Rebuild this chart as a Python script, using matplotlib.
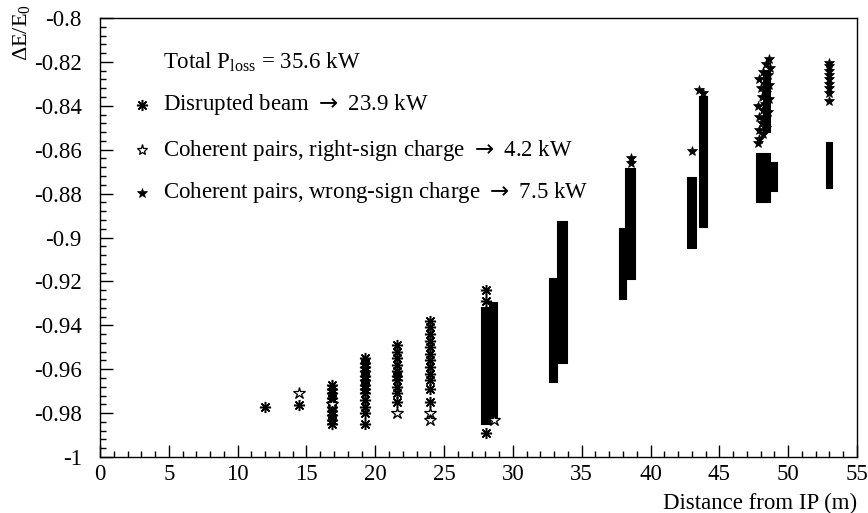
import matplotlib
matplotlib.use("Agg")
import matplotlib.pyplot as plt
from matplotlib.ticker import MultipleLocator, FixedLocator

plt.rcParams['font.family'] = ['Liberation Serif', 'DejaVu Serif']
plt.rcParams['axes.unicode_minus'] = False
plt.rcParams['mathtext.fontset'] = 'custom'
plt.rcParams['mathtext.rm'] = 'Liberation Serif'
plt.rcParams['mathtext.sf'] = 'DejaVu Sans'

# ---- data ----
# sparse disrupted-beam points (asterisks)
dis_x = [12.0, 14.45,
         16.84, 16.84, 16.84, 16.84, 16.84, 16.84, 16.84, 16.84, 16.84, 16.84,
         19.23, 19.23, 19.23, 19.23, 19.23, 19.23, 19.23, 19.23, 19.23, 19.23, 19.23, 19.23, 19.23,
         21.56, 21.56, 21.56, 21.56, 21.56, 21.56, 21.56, 21.56, 21.56, 21.56,
         23.98, 23.98, 23.98, 23.98, 23.98, 23.98, 23.98, 23.98, 23.98, 23.98, 23.98, 23.98,
         28.05, 28.05, 28.05]
dis_y = [-0.977, -0.9765,
         -0.967, -0.969, -0.971, -0.973, -0.975, -0.977, -0.979, -0.981, -0.983, -0.985,
         -0.955, -0.957, -0.959, -0.961, -0.963, -0.965, -0.967, -0.969, -0.971, -0.974, -0.977, -0.980, -0.985,
         -0.949, -0.952, -0.955, -0.958, -0.961, -0.963, -0.965, -0.968, -0.971, -0.975,
         -0.938, -0.941, -0.944, -0.947, -0.950, -0.953, -0.956, -0.959, -0.962, -0.965, -0.969, -0.975,
         -0.924, -0.929, -0.989]

# dense columns: centre, bottom, top, width
col_x = [28.05, 28.6, 32.95, 33.6, 38.0, 38.55, 43.0, 43.85, 48.2, 48.95, 53.0, 48.45]
col_lo = [-0.985, -0.983, -0.966, -0.957, -0.928, -0.919, -0.905, -0.895, -0.884, -0.879, -0.8775, -0.852]
col_hi = [-0.932, -0.930, -0.919, -0.893, -0.896, -0.869, -0.873, -0.836, -0.862, -0.866, -0.857, -0.824]
col_w = [0.6, 0.55, 0.55, 0.65, 0.5, 0.6, 0.6, 0.55, 1.0, 0.5, 0.4, 0.45]

# coherent pairs, right-sign charge (open stars)
rs_x = [14.45, 16.84, 21.56, 23.98, 23.98, 28.6]
rs_y = [-0.9707, -0.976, -0.980, -0.980, -0.983, -0.983]

# coherent pairs, wrong-sign charge (filled stars)
ws_x = [38.6, 38.6, 43.5, 43.8, 43.0,
        48.6, 48.4, 48.7, 48.2, 48.5, 47.9, 48.3, 48.6, 48.0, 48.4, 48.1, 48.6,
        48.3, 47.8, 48.2, 48.5, 47.9, 48.3, 48.1, 48.4, 47.9, 48.2, 47.9, 47.8,
        53.0, 53.0, 53.0, 53.0, 53.0, 53.0, 53.0, 53.0, 53.0]
ws_y = [-0.8638, -0.866, -0.833, -0.834, -0.8605,
        -0.8185, -0.821, -0.823, -0.8245, -0.826, -0.828, -0.830, -0.8305, -0.832, -0.834, -0.836, -0.837,
        -0.839, -0.840, -0.842, -0.843, -0.845, -0.846, -0.848, -0.850, -0.851, -0.853, -0.855, -0.857,
        -0.8205, -0.822, -0.824, -0.826, -0.828, -0.830, -0.832, -0.834, -0.838]

ARROW = r"$\mathsf{\rightarrow}$"
legend_lines = ["Disrupted beam " + ARROW + " 23.9 kW",
                "Coherent pairs, right-sign charge " + ARROW + " 4.2 kW",
                "Coherent pairs, wrong-sign charge " + ARROW + " 7.5 kW"]
total_text = r"Total P$_{\mathrm{loss}}$ = 35.6 kW"

x_ticks = [0, 5, 10, 15, 20, 25, 30, 35, 40, 45, 50, 55]
y_ticks = [-1.0, -0.98, -0.96, -0.94, -0.92, -0.9, -0.88, -0.86, -0.84, -0.82, -0.8]
y_tick_labels = ["-1", "-0.98", "-0.96", "-0.94", "-0.92", "-0.9", "-0.88", "-0.86", "-0.84", "-0.82", "-0.8"]

# ---- figure ----
W, H = 868, 513
fig = plt.figure(figsize=(W / 100, H / 100), dpi=100)
ax = fig.add_axes([100 / W, 1 - 457 / H, 757 / W, 439 / H])

ASTER = (8, 2, 0)
ax.bar(col_x, [h - l for h, l in zip(col_hi, col_lo)], bottom=col_lo, width=col_w,
       color='black', edgecolor='black', linewidth=1.5, zorder=2)
ax.plot(dis_x, dis_y, linestyle='none', marker=ASTER, markersize=8, mew=1.1,
        color='black', zorder=3)
ax.plot(rs_x, rs_y, linestyle='none', marker='*', markersize=9, mew=0.9,
        markerfacecolor='white', markeredgecolor='black', zorder=4)
ax.plot(ws_x, ws_y, linestyle='none', marker='*', markersize=7.5, mew=0.5,
        color='black', zorder=4)

ax.set_xlim(0, 55)
ax.set_ylim(-1.0, -0.8)
ax.xaxis.set_major_locator(FixedLocator(x_ticks))
ax.xaxis.set_minor_locator(MultipleLocator(1))
ax.yaxis.set_major_locator(FixedLocator(y_ticks))
ax.yaxis.set_minor_locator(MultipleLocator(0.004))
ax.set_xticklabels([str(t) for t in x_ticks])
ax.set_yticklabels(y_tick_labels)
ax.tick_params(which='both', direction='in', top=False, right=False, width=1.0)
ax.tick_params(which='major', length=9, labelsize=16.5)
ax.tick_params(which='minor', length=4.5)
ax.tick_params(axis='y', which='major', pad=13)
ax.tick_params(axis='x', which='major', pad=5)
for s in ax.spines.values():
    s.set_linewidth(1.0)

fs = 16.5
ax.text(4.58, -0.8200, total_text, fontsize=fs, va='center', ha='left')
ys = [-0.8396, -0.8603, -0.8797]
for yy, txt in zip(ys, legend_lines):
    ax.text(4.58, yy, txt, fontsize=fs, va='center', ha='left')
ax.plot([3.03], [ys[0]], linestyle='none', marker=ASTER, markersize=8, mew=1.1, color='black')
ax.plot([3.03], [ys[1]], linestyle='none', marker='*', markersize=8, mew=0.9,
        markerfacecolor='white', markeredgecolor='black')
ax.plot([3.03], [ys[2]], linestyle='none', marker='*', markersize=7, mew=0.5, color='black')

fig.text(22 / W, 1 - 4 / H, r"$\Delta$E/E$_{0}$", rotation=90, fontsize=16,
         ha='center', va='top')
fig.text(857 / W, 1 - 503 / H, "Distance from IP (m)", fontsize=16.5, ha='right', va='center')

fig.savefig("out.png", dpi=100)
